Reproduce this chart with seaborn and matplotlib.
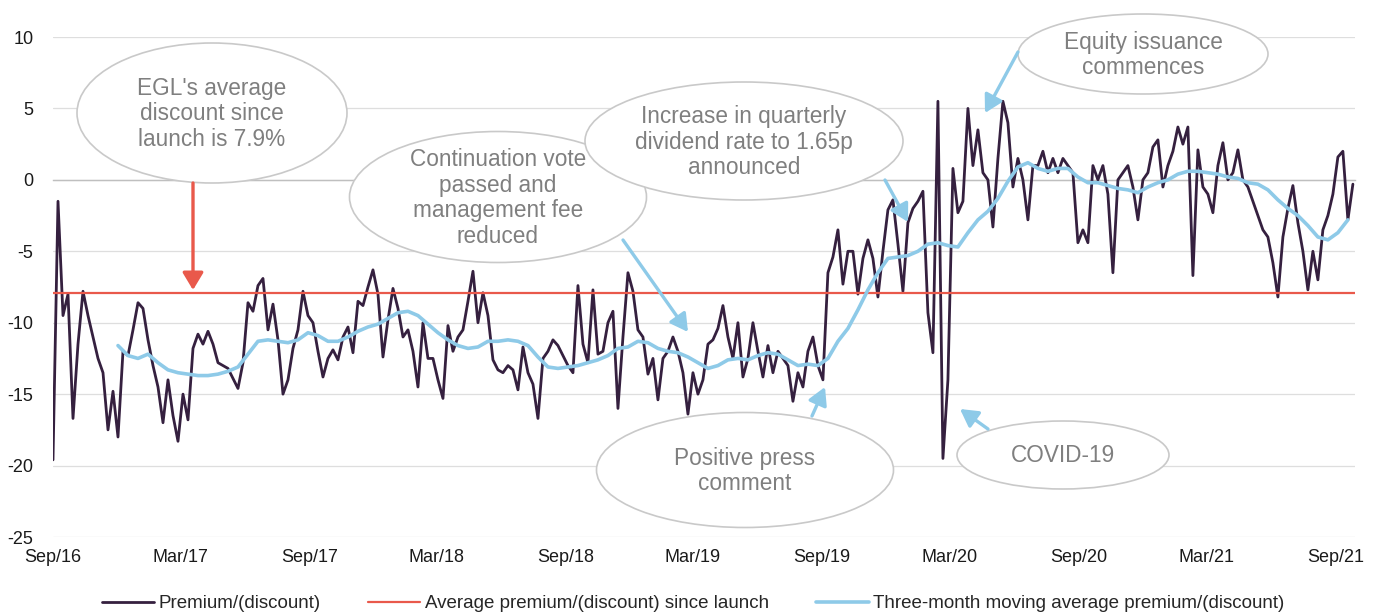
import numpy as np
import pandas as pd
import seaborn as sns
import matplotlib.pyplot as plt
import matplotlib.dates as mdates
from matplotlib.patches import Ellipse, FancyArrowPatch

# %%
# premium/(discount), roughly one value per week
premium = [
    -19.6, -1.5, -9.5, -8.0, -16.7, -11.5, -7.8, -9.5, -11.0, -12.5,
    -13.5, -17.5, -14.8, -18.0, -12.0, -12.3, -10.5, -8.6, -9.0, -11.2,
    -13.0, -14.5, -17.0, -14.0, -16.5, -18.3, -15.0, -16.8, -11.8, -10.8,
    -11.5, -10.6, -11.5, -12.8, -13.0, -13.2, -13.9, -14.6, -12.8, -8.6,
    -9.2, -7.4, -6.9, -10.5, -8.7, -11.2, -15.0, -14.0, -11.8, -10.5,
    -7.8, -9.5, -10.0, -12.0, -13.8, -12.5, -11.9, -12.6, -11.0, -10.3,
    -12.1, -8.5, -8.8, -7.5, -6.3, -8.0, -12.4, -9.8, -7.6, -9.0,
    -11.0, -10.5, -12.0, -14.5, -10.0, -12.5, -12.5, -14.0, -15.3, -10.2,
    -12.0, -11.0, -10.5, -8.5, -6.4, -10.0, -7.9, -9.5, -12.6, -13.3,
    -13.5, -13.0, -13.3, -14.7, -11.7, -13.5, -14.3, -16.7, -12.5, -12.0,
    -11.2, -11.6, -12.3, -13.0, -13.5, -7.4, -11.5, -12.8, -7.7, -12.2,
    -12.0, -10.0, -9.2, -16.0, -11.0, -6.5, -7.8, -10.5, -11.0, -13.6,
    -12.5, -15.4, -12.5, -12.0, -11.0, -12.0, -13.5, -16.4, -13.5, -15.0,
    -14.0, -11.5, -11.2, -10.4, -8.8, -11.0, -12.5, -10.0, -13.8, -12.5,
    -10.0, -12.0, -13.8, -11.6, -13.5, -12.0, -12.5, -13.0, -15.5, -13.5,
    -14.5, -12.0, -11.0, -13.0, -14.0, -6.5, -5.4, -3.5, -7.3, -5.0,
    -5.0, -8.0, -5.5, -4.2, -5.5, -8.2, -5.0, -2.1, -1.4, -4.5,
    -7.8, -3.0, -2.0, -1.5, -0.8, -9.3, -12.1, 5.5, -19.5, -14.0,
    0.8, -2.3, -1.5, 5.0, 1.0, 3.5, 0.5, 0.0, -3.3, 1.5,
    5.5, 4.0, -0.5, 1.5, 0.0, -2.8, 1.0, 1.0, 2.0, 0.5,
    1.5, 0.5, 1.5, 1.0, 0.5, -4.4, -3.5, -4.4, 1.0, 0.0,
    1.0, -1.0, -6.5, 0.0, 0.5, 1.0, -0.5, -2.8, 0.0, 0.5,
    2.3, 2.8, -0.5, 1.0, 2.0, 3.7, 2.5, 3.7, -6.7, 2.1,
    -0.5, -1.0, -2.3, 1.0, 2.6, 0.0, 0.5, 2.1, 0.0, -0.5,
    -1.5, -2.5, -3.5, -4.0, -5.8, -8.2, -4.0, -2.0, -0.4, -3.0,
    -5.0, -7.7, -5.0, -7.0, -3.5, -2.5, -1.0, 1.6, 2.0, -2.8,
    -0.3,
]

# three-month moving average, one value every two weeks from Dec 2016
moving_avg = [
    -11.6, -12.3, -12.5, -12.2, -12.8, -13.3, -13.5, -13.6, -13.7, -13.7,
    -13.6, -13.4, -13.1, -12.2, -11.3, -11.2, -11.3, -11.4, -11.2, -10.7,
    -10.9, -11.3, -11.3, -11.0, -10.6, -10.3, -10.1, -9.7, -9.3, -9.2,
    -9.5, -10.1, -10.7, -11.2, -11.6, -11.8, -11.7, -11.3, -11.3, -11.2,
    -11.3, -11.6, -12.4, -13.1, -13.2, -13.1, -13.0, -12.8, -12.6, -12.3,
    -11.8, -11.7, -11.3, -11.4, -11.8, -12.0, -12.1, -12.4, -12.8, -13.2,
    -13.0, -12.6, -12.5, -12.6, -12.3, -12.1, -12.2, -12.6, -13.0, -12.9,
    -13.0, -12.5, -11.3, -10.4, -9.1, -7.7, -6.5, -5.5, -5.4, -5.3,
    -5.0, -4.5, -4.4, -4.6, -4.7, -3.7, -2.8, -2.2, -1.3, -0.1,
    0.9, 1.2, 0.8, 0.6, 0.8, 0.8, 0.2, -0.2, -0.2, -0.4,
    -0.6, -0.7, -0.9, -0.5, -0.2, 0.0, 0.4, 0.6, 0.6, 0.5,
    0.4, 0.2, 0.1, -0.2, -0.3, -0.7, -1.4, -2.0, -2.5, -3.2,
    -4.0, -4.2, -3.7, -2.8,
]

avg_discount = -7.9

tick_dates = pd.date_range('2016-09-01', '2021-09-01', freq='6MS')
tick_labels = ['Sep/16', 'Mar/17', 'Sep/17', 'Mar/18', 'Sep/18', 'Mar/19',
               'Sep/19', 'Mar/20', 'Sep/20', 'Mar/21', 'Sep/21']

dates = pd.date_range('2016-09-01', '2021-09-26', periods=len(premium))
ma_dates = dates[13::2][:len(moving_avg)]

df = pd.DataFrame({'data': dates, 'premium': premium})
df_ma = pd.DataFrame({'data': ma_dates, 'media': moving_avg})

# %%
sns.set_style('white')
plt.rcParams['font.family'] = ['Liberation Sans', 'DejaVu Sans']
plt.rcParams['axes.unicode_minus'] = False

cor_premium = '#35203f'
cor_media = '#8ecae8'
cor_vermelho = '#e9594b'
cor_texto = '#7f7f7f'
cor_borda = '#c9c9c9'

W, H = 1378, 615
fig = plt.figure(figsize=(W / 100, H / 100), dpi=100)
ax = fig.add_axes([53 / W, 1 - 537 / H, (1355 - 53) / W, 500 / H])

sns.lineplot(data=df, x='data', y='premium', ax=ax, color=cor_premium,
             lw=2.0, label='Premium/(discount)', zorder=3)
ax.axhline(avg_discount, color=cor_vermelho, lw=1.6,
           label='Average premium/(discount) since launch', zorder=4)
sns.lineplot(data=df_ma, x='data', y='media', ax=ax, color=cor_media,
             lw=2.6, label='Three-month moving average premium/(discount)', zorder=5)

ax.set_xlim(pd.Timestamp('2016-09-01'), pd.Timestamp('2021-09-29'))
ax.set_ylim(-25, 10)
ax.set_yticks(range(-25, 11, 5))
ax.set_xlabel('')
ax.set_ylabel('')
ax.yaxis.grid(True, color='#dedede', lw=0.9)
ax.set_axisbelow(True)
ax.tick_params(axis='y', length=0, labelsize=13, pad=14, labelcolor='#1a1a1a')

for lado in ['top', 'right', 'left']:
    ax.spines[lado].set_visible(False)
ax.spines['bottom'].set_position(('data', 0))
ax.spines['bottom'].set_color('#bfbfbf')
ax.spines['bottom'].set_linewidth(1.0)
ax.spines['bottom'].set_zorder(1)
ax.set_xticks(mdates.date2num(tick_dates))
ax.tick_params(axis='x', length=4, width=1.0, color='#bfbfbf', direction='out',
               labelbottom=False)

sec = ax.secondary_xaxis(location=0)
sec.set_xticks(mdates.date2num(tick_dates))
sec.set_xticklabels(tick_labels)
sec.tick_params(length=0, pad=9, labelsize=13, labelcolor='#1a1a1a')
sec.spines['bottom'].set_visible(False)

ax.get_legend().remove()
handles, labels = ax.get_legend_handles_labels()
fig.legend(handles, labels, loc='center', bbox_to_anchor=(0.503, 0.018), ncol=3,
           frameon=False, fontsize=13.5, handlelength=2.8, handletextpad=0.25,
           columnspacing=2.5)


# %%
# anotações (posições em pixels da figura)
def fxy(px, py):
    return px / W, 1 - py / H


balões = [
    (212, 113, 270, 140, "EGL's average\ndiscount since\nlaunch is 7.9%"),
    (498, 197, 297, 131, 'Continuation vote\npassed and\nmanagement fee\nreduced'),
    (744, 141, 318, 118, 'Increase in quarterly\ndividend rate to 1.65p\nannounced'),
    (1143, 54, 250, 80, 'Equity issuance\ncommences'),
    (745, 470, 297, 115, 'Positive press\ncomment'),
    (1063, 455, 212, 68, 'COVID-19'),
]
for cx, cy, w, h, texto in balões:
    fig.add_artist(Ellipse(fxy(cx, cy), w / W, h / H, transform=fig.transFigure,
                           facecolor='white', edgecolor=cor_borda, lw=1.2, zorder=6))
    fig.text(*fxy(cx, cy + 1), texto, ha='center', va='center', fontsize=16.3,
             color=cor_texto, linespacing=1.15, zorder=7)

setas = [
    ((623, 240), (688, 332)),
    ((885, 180), (908, 222)),
    ((1018, 52), (985, 113)),
    ((812, 416), (825, 387)),
    ((988, 429), (960, 409)),
]
for (x0, y0), (x1, y1) in setas:
    fig.add_artist(FancyArrowPatch(fxy(x0, y0), fxy(x1, y1), transform=fig.transFigure,
                                   arrowstyle='-|>,head_length=0.75,head_width=0.42',
                                   mutation_scale=14, color=cor_media, lw=2.4,
                                   shrinkA=0, shrinkB=0, zorder=8))

fig.add_artist(FancyArrowPatch(fxy(193, 183), fxy(193, 290), transform=fig.transFigure,
                               arrowstyle='-|>,head_length=0.75,head_width=0.45',
                               mutation_scale=14, color=cor_vermelho, lw=2.4,
                               shrinkA=0, shrinkB=0, zorder=8))

fig.savefig('out.png', dpi=100)
